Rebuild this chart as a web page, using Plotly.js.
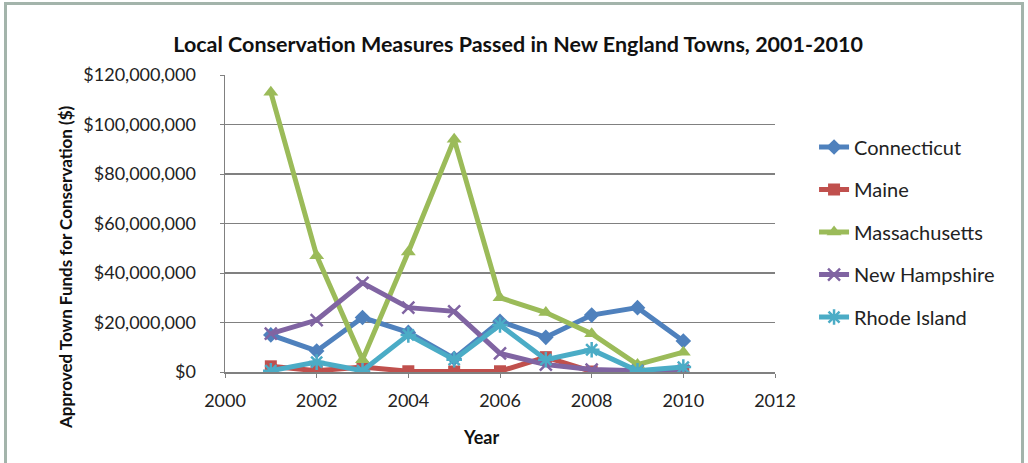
<!DOCTYPE html>
<html>
<head>
<meta charset="utf-8">
<script src="https://cdn.plot.ly/plotly-3.0.1.min.js"></script>
<style>
  html, body { margin: 0; padding: 0; background: #ffffff; }
  #frame { position: absolute; left: 4px; top: 2px; width: 1020px; height: 470px;
           border: 3px solid #a3b4ab; box-sizing: border-box; }
  #chart { position: absolute; left: 0; top: 0; width: 1028px; height: 463px; }
</style>
</head>
<body>
<div id="chart"></div>
<div id="frame"></div>
<script>
const years = [2001, 2002, 2003, 2004, 2005, 2006, 2007, 2008, 2009, 2010];
const seriesNames = ["Connecticut", "Maine", "Massachusetts", "New Hampshire", "Rhode Island"];
// values in millions of dollars
const connecticut   = [15, 8.5, 22, 16, 5.5, 20.5, 14, 23, 26, 12.5];
const maine         = [2.3, 0.5, 2, 0.3, 0.2, 0.3, 6, 0.2, 0.3, 0.3];
const massachusetts = [113, 47, 5, 48.5, 94, 30, 24, 15.5, 3, 8];
const newHampshire  = [15.5, 21, 36, 26, 24.5, 7.5, 3, 1, 0.5, 0.5];
const rhodeIsland   = [0.5, 4, 0.5, 15, 5, 19, 5, 9, 0.5, 2];
const xTicks = [2000, 2002, 2004, 2006, 2008, 2010, 2012];
const yTicks = [0, 20e6, 40e6, 60e6, 80e6, 100e6, 120e6];

const allValues = [connecticut, maine, massachusetts, newHampshire, rhodeIsland];
const colors = ["#4F81BD", "#C0504D", "#9BBB59", "#8064A2", "#4BACC6"];
const symbols = ["diamond", "square", "triangle-up", "x-thin-open", "asterisk-open"];
const sizes = [12, 12, 13, 12, 13];

const font = "Lato, 'Open Sans', sans-serif";

const traces = seriesNames.map((name, i) => ({
  type: "scatter",
  mode: "lines+markers",
  name: name,
  legendgroup: name,
  x: years,
  y: allValues[i].map(v => v * 1e6),
  line: { color: colors[i], width: 5 },
  marker: { symbol: symbols[i], size: sizes[i], color: colors[i],
            line: { color: colors[i], width: (i >= 3 ? 2.5 : 0) } }
}));

const layout = {
  width: 1028, height: 463,
  margin: { l: 225, r: 253, t: 75, b: 91 },
  paper_bgcolor: "rgba(0,0,0,0)",
  plot_bgcolor: "#ffffff",
  font: { family: font, size: 18, color: "#222" },
  title: { text: "<b>Local Conservation Measures Passed in New England Towns, 2001-2010</b>",
           font: { family: font, size: 21.5, color: "#111" },
           xref: "container", yref: "container", x: 0.504, y: 0.903, xanchor: "center", yanchor: "middle" },
  xaxis: {
    range: [2000, 2012], tickvals: xTicks, ticktext: xTicks.map(String),
    showgrid: false, zeroline: false, showline: true, linecolor: "#808080", linewidth: 1.5,
    ticks: "outside", ticklen: 4, tickcolor: "#808080", ticklabelstandoff: 8,
    tickfont: { family: font, size: 18, color: "#222" }
  },
  yaxis: {
    range: [0, 120e6], tickvals: yTicks, tickformat: "$,.0f",
    showgrid: true, gridcolor: "#808080", gridwidth: 1.8,
    zeroline: false, showline: true, linecolor: "#808080", linewidth: 1.5,
    ticks: "outside", ticklen: 4, tickcolor: "#808080", ticklabelstandoff: 20,
    tickfont: { family: font, size: 18, color: "#222" }
  },
  legend: {
    x: 1.071, y: 0.823, xanchor: "left", yanchor: "top",
    font: { family: font, size: 20, color: "#222" },
    traceorder: "grouped", tracegroupgap: 13.5, itemwidth: 30,
    bgcolor: "rgba(0,0,0,0)"
  },
  annotations: [
    { text: "<b>Year</b>", xref: "paper", yref: "paper", x: (481 - 225) / 550, y: (372 - 437) / 297,
      xanchor: "center", yanchor: "middle", showarrow: false, font: { family: font, size: 18, color: "#111" } },
    { text: "<b>Approved Town Funds for Conservation ($)</b>", xref: "paper", yref: "paper",
      x: (65 - 225) / 550, y: (372 - 267) / 297, textangle: -90,
      xanchor: "center", yanchor: "middle", showarrow: false, font: { family: font, size: 17, color: "#111" } }
  ],
  showlegend: true
};

Plotly.newPlot("chart", traces, layout, { displayModeBar: false, staticPlot: true });
</script>
</body>
</html>
